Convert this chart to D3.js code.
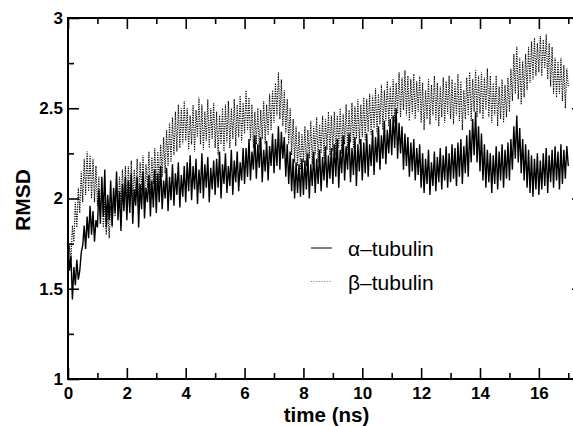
<!DOCTYPE html>
<html>
<head>
<meta charset="utf-8">
<script src="https://cdn.jsdelivr.net/npm/d3@7"></script>
<style>
  body { margin: 0; background: #fff; }
  text { font-family: "Liberation Sans", Arial, Helvetica, sans-serif; fill: #000; }
</style>
</head>
<body>
<div id="chart"></div>
<script>
// sampling interval of the trajectories (ns)
var timeStep = 0.05;

// RMSD of alpha-tubulin, one value every 0.05 ns
var alphaRmsd = [
  1.76,1.60,1.68,1.44,1.62,1.52,1.66,1.55,1.60,1.70,1.74,1.85,1.72,1.90,1.78,1.96,1.80,1.93,1.76,1.88,
  1.84,2.05,1.86,2.12,1.90,2.16,1.84,2.02,1.88,2.10,1.85,2.06,1.92,2.15,1.88,2.04,1.82,2.08,1.93,2.12,
  1.88,2.10,1.92,2.14,1.86,2.05,1.96,2.12,1.84,2.08,1.94,2.15,1.89,2.06,1.98,2.13,1.90,2.10,1.95,2.16,
  1.92,2.14,1.98,2.18,1.94,2.10,2.00,2.17,1.93,2.12,1.99,2.19,1.96,2.14,2.02,2.20,1.95,2.13,2.01,2.18,
  1.98,2.20,2.04,2.24,1.99,2.18,2.05,2.22,1.97,2.16,2.03,2.25,2.00,2.19,2.06,2.23,1.98,2.17,2.05,2.21,
  2.02,2.22,2.06,2.26,2.00,2.19,2.08,2.25,2.03,2.18,2.07,2.27,2.02,2.21,2.09,2.26,2.04,2.20,2.10,2.28,
  2.08,2.28,2.12,2.33,2.10,2.26,2.16,2.35,2.11,2.30,2.17,2.34,2.09,2.27,2.15,2.32,2.10,2.29,2.18,2.36,
  2.14,2.33,2.18,2.40,2.16,2.37,2.22,2.34,2.12,2.30,2.08,2.26,2.04,2.22,2.00,2.20,2.03,2.19,2.01,2.22,
  2.02,2.21,2.05,2.25,2.00,2.19,2.07,2.26,2.03,2.22,2.08,2.27,2.04,2.23,2.10,2.29,2.06,2.24,2.11,2.28,
  2.08,2.30,2.12,2.33,2.06,2.27,2.14,2.35,2.10,2.29,2.16,2.36,2.09,2.28,2.13,2.34,2.07,2.30,2.15,2.33,
  2.10,2.31,2.14,2.36,2.12,2.30,2.18,2.38,2.13,2.34,2.20,2.40,2.16,2.35,2.22,2.43,2.19,2.38,2.25,2.44,
  2.24,2.46,2.28,2.50,2.22,2.42,2.25,2.40,2.16,2.36,2.18,2.34,2.12,2.31,2.15,2.33,2.10,2.28,2.13,2.30,
  2.06,2.25,2.03,2.22,2.08,2.27,2.02,2.20,2.07,2.26,2.04,2.23,2.09,2.28,2.05,2.24,2.10,2.29,2.06,2.25,
  2.09,2.30,2.11,2.28,2.07,2.31,2.12,2.33,2.08,2.29,2.14,2.35,2.12,2.38,2.20,2.44,2.24,2.48,2.20,2.40,
  2.15,2.36,2.10,2.30,2.06,2.27,2.09,2.25,2.03,2.24,2.08,2.29,2.05,2.26,2.10,2.30,2.06,2.27,2.11,2.31,
  2.10,2.33,2.16,2.40,2.22,2.46,2.20,2.39,2.14,2.33,2.10,2.30,2.06,2.27,2.03,2.24,2.01,2.22,2.05,2.25,
  2.02,2.21,2.05,2.25,2.07,2.28,2.03,2.24,2.09,2.27,2.06,2.29,2.10,2.26,2.05,2.30,2.08,2.27,2.11,2.29,
  2.18
];

// RMSD of beta-tubulin, same sampling
var betaRmsd = [
  1.60,1.74,1.66,1.85,1.76,1.98,1.84,2.06,1.92,2.15,1.98,2.22,2.02,2.26,2.04,2.24,2.00,2.22,1.98,2.18,
  1.96,2.12,1.90,2.05,1.84,1.98,1.80,1.94,1.78,1.96,1.84,2.02,1.90,2.08,1.94,2.12,1.96,2.16,1.98,2.18,
  1.96,2.18,2.00,2.21,1.95,2.16,2.02,2.22,1.98,2.20,2.04,2.24,1.99,2.19,2.06,2.26,2.02,2.23,2.08,2.28,
  2.04,2.26,2.08,2.30,2.12,2.34,2.14,2.38,2.18,2.42,2.20,2.45,2.24,2.48,2.26,2.52,2.28,2.50,2.30,2.54,
  2.32,2.50,2.27,2.46,2.30,2.52,2.26,2.49,2.34,2.56,2.30,2.52,2.27,2.48,2.32,2.55,2.28,2.50,2.33,2.53,
  2.28,2.48,2.24,2.46,2.30,2.50,2.26,2.52,2.31,2.54,2.28,2.50,2.33,2.55,2.29,2.52,2.34,2.57,2.31,2.53,
  2.36,2.60,2.38,2.56,2.32,2.52,2.28,2.48,2.30,2.50,2.27,2.49,2.33,2.54,2.30,2.52,2.35,2.58,2.38,2.60,
  2.42,2.64,2.46,2.70,2.44,2.66,2.40,2.60,2.36,2.55,2.30,2.50,2.24,2.44,2.20,2.40,2.18,2.37,2.16,2.36,
  2.20,2.40,2.18,2.38,2.22,2.43,2.19,2.40,2.24,2.45,2.20,2.41,2.25,2.46,2.22,2.44,2.27,2.48,2.24,2.46,
  2.26,2.48,2.24,2.46,2.28,2.50,2.25,2.47,2.30,2.52,2.27,2.49,2.31,2.53,2.28,2.51,2.33,2.55,2.30,2.52,
  2.34,2.56,2.32,2.55,2.37,2.58,2.35,2.57,2.39,2.61,2.36,2.58,2.41,2.63,2.38,2.60,2.43,2.65,2.40,2.62,
  2.44,2.66,2.42,2.64,2.47,2.70,2.45,2.67,2.49,2.71,2.46,2.68,2.43,2.66,2.47,2.69,2.44,2.65,2.48,2.68,
  2.42,2.64,2.38,2.60,2.44,2.66,2.41,2.63,2.46,2.68,2.43,2.64,2.40,2.62,2.45,2.67,2.42,2.65,2.47,2.68,
  2.44,2.66,2.41,2.64,2.46,2.69,2.43,2.65,2.38,2.60,2.44,2.67,2.46,2.70,2.43,2.66,2.48,2.71,2.45,2.68,
  2.47,2.70,2.44,2.67,2.49,2.72,2.45,2.68,2.42,2.64,2.46,2.68,2.40,2.62,2.44,2.66,2.42,2.63,2.45,2.67,
  2.48,2.72,2.54,2.80,2.58,2.84,2.55,2.78,2.52,2.76,2.56,2.80,2.60,2.84,2.64,2.87,2.66,2.89,2.68,2.86,
  2.70,2.90,2.68,2.88,2.72,2.91,2.66,2.86,2.62,2.84,2.58,2.78,2.56,2.76,2.58,2.78,2.54,2.74,2.50,2.72,
  2.62
];

var seriesNames = ["\u03b1\u2013tubulin", "\u03b2\u2013tubulin"];

var xMajorTicks = [0, 2, 4, 6, 8, 10, 12, 14, 16];
var xMinorTicks = [1, 3, 5, 7, 9, 11, 13, 15, 17];
var yMajorTicks = [1, 1.5, 2, 2.5, 3];
var yMinorTicks = [1.25, 1.75, 2.25, 2.75];
var yTickLabels = ["1", "1.5", "2", "2.5", "3"];

var width = 573,
    height = 426,
    margin = { left: 68, top: 18, right: -10, bottom: 47 };
var chartWidth = width - margin.left - margin.right;
var chartHeight = height - margin.top - margin.bottom;

var xScale = d3.scaleLinear().domain([0, 17.5]).range([0, chartWidth]);
var yScale = d3.scaleLinear().domain([1, 3]).range([chartHeight, 0]);

var svg = d3.select("#chart").append("svg")
    .attr("width", width)
    .attr("height", height)
    .style("display", "block");

svg.append("rect").attr("width", width).attr("height", height).attr("fill", "#fff");

var chartG = svg.append("g")
    .attr("transform", "translate(" + margin.left + "," + margin.top + ")");

var line = d3.line()
    .x(function(d, i) { return xScale(i * timeStep); })
    .y(function(d) { return yScale(d); });

// beta first (dotted), alpha on top (solid)
chartG.append("path")
    .datum(betaRmsd)
    .attr("d", line)
    .attr("fill", "none")
    .attr("stroke", "#000")
    .attr("stroke-width", 1.1)
    .attr("stroke-dasharray", "1.2,1.2");

chartG.append("path")
    .datum(alphaRmsd)
    .attr("d", line)
    .attr("fill", "none")
    .attr("stroke", "#000")
    .attr("stroke-width", 1.4);

// axes: ticks point inward on all four sides
function styleAxis(g) {
    g.select(".domain").remove();
    g.selectAll(".tick line").attr("stroke", "#000").attr("stroke-width", 1.6);
    g.selectAll(".tick text")
        .style("font-size", "17px")
        .style("font-weight", "bold")
        .attr("fill", "#000");
}

chartG.append("g")
    .attr("transform", "translate(0," + chartHeight + ")")
    .call(d3.axisBottom(xScale).tickValues(xMajorTicks).tickSize(-11).tickPadding(8)
        .tickFormat(d3.format("d")))
    .call(styleAxis);
chartG.append("g")
    .attr("transform", "translate(0," + chartHeight + ")")
    .call(d3.axisBottom(xScale).tickValues(xMinorTicks).tickSize(-6).tickFormat(""))
    .call(styleAxis);
chartG.append("g")
    .call(d3.axisTop(xScale).tickValues(xMajorTicks).tickSize(-11).tickFormat(""))
    .call(styleAxis);
chartG.append("g")
    .call(d3.axisTop(xScale).tickValues(xMinorTicks).tickSize(-6).tickFormat(""))
    .call(styleAxis);

chartG.append("g")
    .call(d3.axisLeft(yScale).tickValues(yMajorTicks).tickSize(-11).tickPadding(5)
        .tickFormat(function(d, i) { return yTickLabels[i]; }))
    .call(styleAxis);
chartG.append("g")
    .call(d3.axisLeft(yScale).tickValues(yMinorTicks).tickSize(-6).tickFormat(""))
    .call(styleAxis);
chartG.append("g")
    .attr("transform", "translate(" + chartWidth + ",0)")
    .call(d3.axisRight(yScale).tickValues(yMajorTicks).tickSize(-11).tickFormat(""))
    .call(styleAxis);
chartG.append("g")
    .attr("transform", "translate(" + chartWidth + ",0)")
    .call(d3.axisRight(yScale).tickValues(yMinorTicks).tickSize(-6).tickFormat(""))
    .call(styleAxis);

// frame
chartG.append("rect")
    .attr("width", chartWidth)
    .attr("height", chartHeight)
    .attr("fill", "none")
    .attr("stroke", "#000")
    .attr("stroke-width", 2);

// axis titles
svg.append("text")
    .attr("x", 326.5)
    .attr("y", 422)
    .attr("text-anchor", "middle")
    .style("font-size", "20.5px")
    .style("font-weight", "bold")
    .text("time (ns)");

svg.append("text")
    .attr("transform", "translate(30,200) rotate(-90)")
    .attr("text-anchor", "middle")
    .style("font-size", "21px")
    .style("font-weight", "bold")
    .text("RMSD");

// legend
var legend = svg.append("g").attr("transform", "translate(311,248)");
seriesNames.forEach(function(name, i) {
    var row = legend.append("g").attr("transform", "translate(0," + (i * 33.5) + ")");
    row.append("line")
        .attr("x1", 0).attr("x2", 21)
        .attr("y1", 0).attr("y2", 0)
        .attr("stroke", i === 0 ? "#000" : "#777")
        .attr("stroke-width", 1)
        .attr("stroke-dasharray", i === 0 ? null : "1,1.6");
    row.append("text")
        .attr("x", 37)
        .attr("y", 8)
        .style("font-size", "21px")
        .text(name);
});
</script>
</body>
</html>
